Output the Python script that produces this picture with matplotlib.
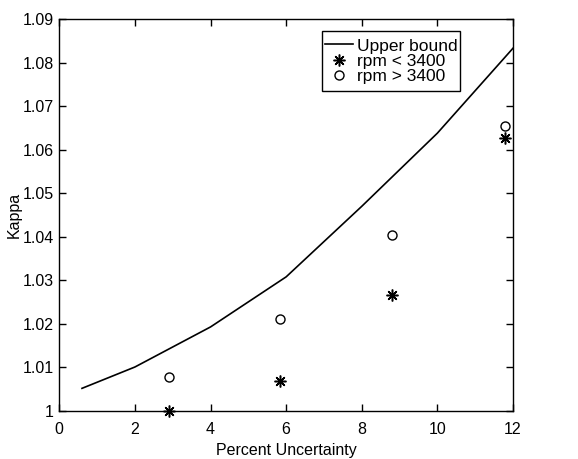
import matplotlib
matplotlib.use("Agg")
import matplotlib.pyplot as plt
from matplotlib.patches import Rectangle

plt.rcParams['font.family'] = ['Liberation Sans', 'DejaVu Sans']

bound_x = [0.6, 2, 4, 6, 8, 10, 12]
bound_y = [1.0052, 1.0101, 1.0193, 1.0308, 1.0470, 1.0638, 1.0833]

low_x = [2.9, 5.85, 8.8, 11.8]
low_y = [1.0000, 1.0068, 1.0267, 1.0627]

high_x = [2.9, 5.85, 8.8, 11.8]
high_y = [1.0078, 1.0212, 1.0405, 1.0655]

xticks = [0, 2, 4, 6, 8, 10, 12]
yticks = [1, 1.01, 1.02, 1.03, 1.04, 1.05, 1.06, 1.07, 1.08, 1.09]
ytick_labels = ['1', '1.01', '1.02', '1.03', '1.04', '1.05', '1.06', '1.07', '1.08', '1.09']

fig = plt.figure(figsize=(5.78, 4.59), dpi=100)
ax = fig.add_axes([0.1026, 0.1046, 0.785, 0.854])

ax.plot(bound_x, bound_y, color='black', lw=1.2, label='Upper bound')
ax.plot(low_x, low_y, ls='none', marker=(8, 2, 0), ms=8.5, mec='black', mew=1.1,
        color='black', label='rpm < 3400', clip_on=False)
ax.plot(high_x, high_y, ls='none', marker='o', ms=6.5, mfc='none', mec='black',
        mew=1.0, label='rpm > 3400', clip_on=False)

ax.set_xlim(0, 12)
ax.set_ylim(1, 1.09)
ax.set_xticks(xticks)
ax.set_yticks(yticks)
ax.set_yticklabels(ytick_labels)
ax.tick_params(direction='in', top=True, right=True, labelsize=11.5, length=5, width=1)
ax.tick_params(axis='x', pad=8)
ax.tick_params(axis='y', pad=4)
for s in ax.spines.values():
    s.set_linewidth(1.0)

ax.set_xlabel('Percent Uncertainty', fontsize=11.5, labelpad=4)
ax.set_ylabel('Kappa', fontsize=11.5, labelpad=0.5)

leg = ax.legend(loc='upper left', bbox_to_anchor=(0.579, 0.958), fontsize=12.5,
                frameon=False, handlelength=1.6, handletextpad=0.25,
                borderpad=0.17, labelspacing=0.0, borderaxespad=0)

ax.add_patch(Rectangle((0.579, 0.816), 0.883 - 0.579, 0.969 - 0.816,
                       transform=ax.transAxes, fill=False, edgecolor='black',
                       lw=1.0, zorder=5))

fig.savefig('out.png', dpi=100)
